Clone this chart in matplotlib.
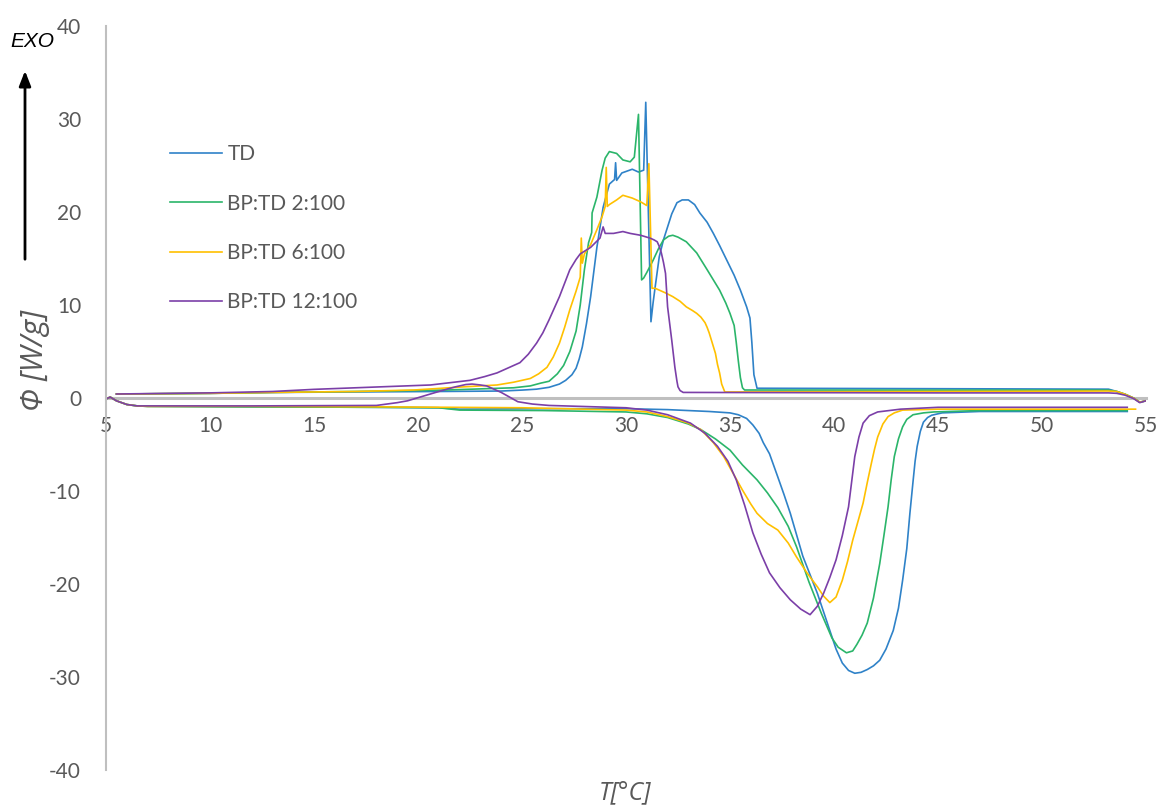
import numpy as np
import matplotlib
matplotlib.use('Agg')
import matplotlib.pyplot as plt

# DSC: heating branch (endotherm, negative) and cooling branch (exotherm, positive)
labels = ['TD', 'BP:TD 2:100', 'BP:TD 6:100', 'BP:TD 12:100']
colors = ['#2F82C8', '#2BB56A', '#FFC000', '#7B3FA8']

td_heat_t = [5.0, 5.2, 5.5, 6.0, 6.5, 7.0, 12.0, 18.0, 21.0, 22.0, 26.0, 30.0, 32.0, 33.0, 34.0,
             35.0, 35.4, 35.8, 36.1, 36.4, 36.6, 36.9, 37.3, 37.6, 37.9, 38.5, 39.2, 39.8, 40.1, 40.4,
             40.7, 41.0, 41.3, 41.6, 41.9, 42.2, 42.5, 42.85, 43.1, 43.3, 43.5, 43.65, 43.8, 43.9,
             44.0, 44.15, 44.3, 44.5, 44.7, 45.2, 47.0, 54.1]
td_heat_v = [-0.1, 0.1, -0.3, -0.7, -0.85, -0.9, -0.95, -1.0, -1.05, -1.2, -1.15, -1.15, -1.25, -1.35, -1.45,
             -1.6, -1.8, -2.2, -2.9, -3.8, -4.8, -6.0, -8.5, -10.4, -12.4, -17.0, -21.0, -25.0, -27.0, -28.5,
             -29.3, -29.6, -29.5, -29.2, -28.8, -28.2, -27.0, -25.0, -22.6, -19.6, -16.2, -12.4, -9.0, -6.8,
             -5.2, -3.6, -2.6, -2.1, -1.85, -1.6, -1.45, -1.45]
td_cool_t = [5.5, 10.0, 13.0, 17.0, 21.0, 24.0, 25.0, 25.7, 26.3, 26.8, 27.1, 27.4, 27.6, 27.75, 27.9,
             28.1, 28.3, 28.6, 28.9, 29.2, 29.45, 29.5, 29.55, 29.8, 30.3, 30.6, 30.85, 30.95, 31.2, 31.3,
             31.4, 31.6, 31.8, 32.0, 32.2, 32.45, 32.7, 33.0, 33.3, 33.55, 33.9, 34.2, 34.5, 34.85, 35.2,
             35.5, 35.8, 35.96, 36.05, 36.15, 36.3, 45.0, 53.2, 53.6, 54.0, 54.4, 54.7, 55.0]
td_cool_v = [0.43, 0.5, 0.6, 0.65, 0.7, 0.75, 0.85, 0.95, 1.15, 1.5, 1.9, 2.5, 3.2, 4.2, 5.5,
             8.0, 10.9, 16.2, 20.5, 23.0, 23.5, 25.3, 23.4, 24.2, 24.6, 24.3, 24.5, 31.8, 8.2, 10.2,
             11.9, 15.2, 17.0, 18.4, 19.8, 21.0, 21.3, 21.3, 20.8, 19.9, 18.9, 17.7, 16.4, 14.8, 13.2,
             11.6, 9.8, 8.6, 6.0, 2.5, 1.05, 1.0, 0.95, 0.7, 0.4, 0.0, -0.45, -0.3]

bp2_heat_t = [5.0, 5.2, 5.5, 6.0, 6.5, 7.0, 12.0, 18.0, 21.0, 22.0, 26.0, 30.0, 31.0, 32.0, 33.0,
              33.6, 34.3, 35.0, 35.6, 36.3, 36.8, 37.3, 37.8, 38.2, 38.8, 39.4, 39.9, 40.2, 40.6, 40.9,
              41.1, 41.35, 41.6, 41.9, 42.2, 42.4, 42.6, 42.75, 42.9, 43.1, 43.3, 43.5, 43.8, 44.3,
              44.8, 47.0, 54.1]
bp2_heat_v = [-0.1, 0.1, -0.3, -0.7, -0.85, -0.9, -0.95, -1.0, -1.05, -1.3, -1.35, -1.5, -1.7, -2.1, -2.8,
              -3.4, -4.4, -5.6, -7.2, -8.8, -10.2, -11.8, -13.8, -16.0, -19.8, -23.2, -25.8, -26.8, -27.4, -27.2,
              -26.5, -25.5, -24.2, -21.5, -17.8, -14.8, -11.7, -8.8, -6.3, -4.4, -3.1, -2.3, -1.8, -1.6,
              -1.5, -1.35, -1.35]
bp2_cool_t = [5.5, 10.0, 13.0, 17.0, 21.4, 24.6, 25.4, 25.9, 26.3, 26.7, 27.0, 27.3, 27.6, 27.8, 28.0,
              28.2, 28.35, 28.37, 28.6, 28.85, 29.0, 29.2, 29.55, 29.85, 30.2, 30.4, 30.6, 30.75, 30.85,
              31.0, 31.3, 31.55, 31.8, 32.05, 32.25, 32.5, 32.9, 33.4, 33.9, 34.5, 34.8, 35.0, 35.2,
              35.3, 35.4, 35.5, 35.6, 35.7, 45.0, 53.2, 53.6, 54.0, 54.4, 54.7, 55.0]
bp2_cool_v = [0.43, 0.5, 0.6, 0.7, 0.86, 1.1, 1.3, 1.6, 1.8, 2.6, 3.5, 5.0, 7.2, 10.0, 13.8,
              16.7, 17.8, 19.9, 21.6, 24.5, 25.8, 26.5, 26.3, 25.6, 25.4, 25.9, 30.5, 12.7, 12.9,
              13.5, 14.8, 16.0, 17.0, 17.4, 17.5, 17.3, 16.8, 15.6, 13.8, 11.6, 10.2, 9.1, 7.8,
              6.0, 4.0, 2.2, 1.1, 0.86, 0.85, 0.85, 0.7, 0.4, 0.0, -0.45, -0.3]

bp6_heat_t = [5.0, 5.2, 5.5, 6.0, 6.5, 7.0, 12.0, 18.0, 25.0, 30.0, 31.0, 32.0, 33.0, 33.6, 34.2,
              34.7, 35.2, 35.6, 36.0, 36.3, 36.8, 37.3, 37.8, 38.2, 38.7, 39.2, 39.5, 39.8, 40.1, 40.4,
              40.65, 40.9, 41.15, 41.4, 41.6, 41.8, 41.95, 42.1, 42.35, 42.6, 42.9, 43.3, 45.0, 54.5]
bp6_heat_v = [-0.1, 0.1, -0.3, -0.7, -0.85, -0.9, -0.9, -0.95, -1.05, -1.3, -1.5, -2.0, -2.7, -3.4, -4.8,
              -6.3, -8.3, -9.9, -11.4, -12.4, -13.5, -14.2, -15.6, -17.1, -18.8, -20.3, -21.3, -22.0, -21.4, -19.6,
              -17.6, -15.3, -13.3, -11.3, -9.1, -7.0, -5.5, -4.2, -2.8, -2.0, -1.6, -1.3, -1.2, -1.2]
bp6_cool_t = [5.5, 10.0, 13.0, 17.0, 19.8, 22.2, 23.8, 24.6, 25.4, 25.8, 26.2, 26.5, 26.8, 27.05, 27.3,
              27.6, 27.8, 27.85, 27.9, 28.0, 28.3, 28.6, 28.85, 29.0, 29.05, 29.1, 29.2, 29.55, 29.85,
              30.3, 30.7, 31.0, 31.1, 31.25, 31.4, 31.6, 31.9, 32.25, 32.6, 32.9, 33.2, 33.4, 33.6,
              33.8, 33.9, 34.0, 34.15, 34.3, 34.4, 34.5, 34.6, 34.75, 45.0, 53.2, 53.6, 54.0, 54.4,
              54.7, 55.0]
bp6_cool_v = [0.43, 0.5, 0.6, 0.7, 0.86, 1.2, 1.4, 1.7, 2.1, 2.6, 3.3, 4.4, 5.9, 7.6, 9.5,
              11.5, 13.0, 17.2, 14.5, 15.5, 16.5, 18.1, 19.5, 20.6, 24.8, 20.6, 20.8, 21.3, 21.8,
              21.5, 21.1, 20.7, 25.2, 11.8, 11.8, 11.6, 11.3, 10.9, 10.4, 9.8, 9.4, 9.1, 8.7,
              8.1, 7.6, 7.0, 5.9, 4.8, 3.6, 2.7, 1.5, 0.65, 0.7, 0.75, 0.7, 0.4, 0.0,
              -0.45, -0.3]

bp12_heat_t = [5.0, 5.2, 5.5, 6.0, 6.5, 7.0, 12.0, 18.0, 19.0, 19.5, 20.1, 20.7, 21.3, 21.8, 22.3,
               22.6, 23.0, 23.3, 23.7, 24.0, 24.4, 24.8, 25.5, 26.3, 30.0, 31.0, 32.0, 33.1, 33.8,
               34.4, 34.9, 35.3, 35.7, 36.1, 36.5, 36.9, 37.4, 37.9, 38.4, 38.85, 39.2, 39.5, 39.8,
               40.1, 40.4, 40.7, 40.85, 41.0, 41.2, 41.4, 41.7, 42.1, 43.2, 45.0, 54.1]
bp12_heat_v = [-0.1, 0.1, -0.3, -0.7, -0.85, -0.85, -0.85, -0.8, -0.5, -0.3, 0.1, 0.5, 0.9, 1.2, 1.45,
               1.5, 1.4, 1.3, 0.9, 0.6, 0.1, -0.4, -0.65, -0.8, -1.05, -1.3, -1.8, -2.7, -3.8,
               -5.2, -6.8, -8.8, -11.5, -14.5, -16.8, -18.8, -20.4, -21.7, -22.7, -23.3, -22.4, -21.0, -19.3,
               -17.4, -14.8, -11.7, -9.0, -6.3, -4.2, -2.7, -1.9, -1.5, -1.2, -1.0, -1.0]
bp12_cool_t = [5.5, 10.0, 13.0, 15.0, 18.2, 20.6, 22.5, 23.2, 23.8, 24.4, 24.9, 25.3, 25.7, 26.0, 26.3,
               26.8, 27.3, 27.6, 27.8, 28.3, 28.75, 28.9, 29.0, 29.4, 29.85, 30.2, 30.7, 31.15, 31.35,
               31.5, 31.6, 31.7, 31.8, 31.9, 32.0, 32.2, 32.35, 32.45, 32.5, 32.6, 32.75, 45.0, 53.2,
               53.6, 54.0, 54.4, 54.7, 55.0]
bp12_cool_v = [0.43, 0.55, 0.7, 0.93, 1.2, 1.4, 1.9, 2.3, 2.7, 3.3, 3.8, 4.7, 5.9, 7.0, 8.4,
               10.9, 13.8, 14.9, 15.5, 16.2, 17.2, 18.4, 17.7, 17.7, 17.9, 17.7, 17.5, 17.2, 17.0,
               16.8, 16.3, 15.6, 14.6, 13.4, 9.8, 6.2, 3.3, 1.8, 1.2, 0.8, 0.6, 0.55, 0.55,
               0.5, 0.3, -0.05, -0.5, -0.3]

heat = [(td_heat_t, td_heat_v), (bp2_heat_t, bp2_heat_v), (bp6_heat_t, bp6_heat_v), (bp12_heat_t, bp12_heat_v)]
cool = [(td_cool_t, td_cool_v), (bp2_cool_t, bp2_cool_v), (bp6_cool_t, bp6_cool_v), (bp12_cool_t, bp12_cool_v)]

x_ticks = [5, 10, 15, 20, 25, 30, 35, 40, 45, 50, 55]
y_ticks = [-40, -30, -20, -10, 0, 10, 20, 30, 40]

grey = '#595959'
axis_grey = '#BFBFBF'
plt.rcParams['font.family'] = ['Lato', 'DejaVu Sans']

fig = plt.figure(figsize=(11.64, 8.06), dpi=100)
ax = fig.add_axes([0.0911, 0.0447, 0.8934, 0.923])

for i in range(4):
    ax.plot(heat[i][0], heat[i][1], color=colors[i], lw=1.2, label=labels[i], solid_joinstyle='round')
    ax.plot(cool[i][0], cool[i][1], color=colors[i], lw=1.2, solid_joinstyle='round')

ax.set_xlim(5, 55)
ax.set_ylim(-40, 40)
ax.set_xticks(x_ticks)
ax.set_yticks(y_ticks)
ax.set_xticklabels([str(t) for t in x_ticks])
ax.set_yticklabels([str(t) for t in y_ticks])

# axes crossing at y = 0
ax.spines['top'].set_visible(False)
ax.spines['right'].set_visible(False)
ax.spines['bottom'].set_position(('data', 0))
ax.spines['bottom'].set_color(axis_grey)
ax.spines['bottom'].set_linewidth(2.2)
ax.spines['bottom'].set_zorder(0)
ax.spines['left'].set_color(axis_grey)
ax.spines['left'].set_linewidth(1.5)
ax.tick_params(axis='both', length=0, labelsize=15, colors=grey)
ax.tick_params(axis='x', pad=13)
ax.tick_params(axis='y', pad=18)

ax.text(-0.068, 0.551, 'Φ [W/g]', transform=ax.transAxes, rotation=90, ha='center', va='center',
        fontsize=22, style='italic', color=grey, family=['Open Sans', 'DejaVu Sans'])
ax.text(0.499, -0.031, 'T[°C]', transform=ax.transAxes, ha='center', va='center',
        fontsize=18, style='italic', color=grey, family=['Open Sans', 'DejaVu Sans'])

# EXO arrow
fig.text(0.0085, 0.948, 'EXO', fontsize=15, style='italic', color='black',
         family=['Liberation Sans', 'DejaVu Sans'], ha='left', va='center')
ax.annotate('', xy=(25 / 1164, 1 - 68 / 806), xytext=(25 / 1164, 1 - 262 / 806),
            xycoords='figure fraction', textcoords='figure fraction',
            arrowprops=dict(arrowstyle='-|>,head_width=0.35,head_length=0.9', color='black', lw=2))

leg = ax.legend(loc='upper left', bbox_to_anchor=(0.0615, 0.841), frameon=False, fontsize=15,
                handlelength=2.5, handletextpad=0.25, labelspacing=1.41, borderpad=0, borderaxespad=0)
for t in leg.get_texts():
    t.set_color(grey)

fig.savefig('out.png', dpi=100)
